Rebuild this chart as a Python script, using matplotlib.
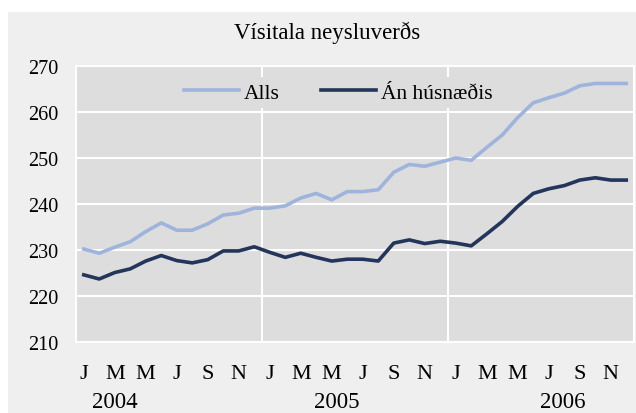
import matplotlib
matplotlib.use("Agg")
import matplotlib.pyplot as plt
from matplotlib.patches import Rectangle

months = ["J", "F", "M", "A", "M", "J", "J", "Á", "S", "O", "N", "D"] * 3
years = ["2004", "2005", "2006"]
year_pos = [2.0, 16.3, 30.9]

alls = [230.2, 229.3, 230.6, 231.8, 234.0, 235.9, 234.3, 234.3, 235.7, 237.6, 238.0, 239.1,
        239.1, 239.6, 241.3, 242.3, 240.9, 242.7, 242.7, 243.1, 246.9, 248.6, 248.2, 249.1,
        250.0, 249.5, 252.3, 255.0, 258.8, 262.0, 263.1, 264.1, 265.7, 266.2, 266.2, 266.2]
an_husnaedis = [224.6, 223.7, 225.1, 225.9, 227.6, 228.8, 227.7, 227.2, 227.9, 229.8, 229.8, 230.7,
                229.5, 228.4, 229.3, 228.4, 227.6, 228.0, 228.0, 227.6, 231.5, 232.2, 231.4, 231.9,
                231.5, 230.9, 233.5, 236.2, 239.5, 242.3, 243.3, 244.0, 245.2, 245.7, 245.2, 245.2]

plt.rcParams['font.family'] = ['Liberation Serif', 'DejaVu Serif']

W, H = 636, 414
fig = plt.figure(figsize=(W / 100, H / 100), dpi=100, facecolor="white")
fig.patches.append(Rectangle((8 / W, 0), 1, (H - 13) / H, transform=fig.transFigure,
                             facecolor="#efefef", edgecolor="none", zorder=-10))

ax = fig.add_axes([76 / W, 71 / H, 558 / W, 276 / H])
ax.set_facecolor("#dddddd")
x = list(range(len(alls)))
ax.plot(x, alls, color="#9fb4dc", lw=2.6, label="Alls", zorder=3)
ax.plot(x, an_husnaedis, color="#23355a", lw=2.6, label="Án húsnæðis", zorder=3)

ax.set_xlim(-0.5, len(alls) - 0.5)
ax.set_ylim(210, 270)
ax.set_yticks(range(210, 271, 10))
for yv in range(220, 270, 10):
    ax.axhline(yv, color="white", lw=1.5, zorder=1)
for xv in [11.5, 23.5]:
    ax.axvline(xv, color="white", lw=1.5, zorder=1)
for s in ax.spines.values():
    s.set_color("white")
    s.set_linewidth(1.5)

ticks = list(range(0, 36, 2))
ax.set_xticks(ticks)
ax.set_xticklabels([months[i] for i in ticks], fontsize=16)
ax.tick_params(axis="x", length=0, pad=16)
ax.tick_params(axis="y", length=0, pad=13, labelsize=14.5)

for yr, p in zip(years, year_pos):
    ax.text(p, -0.215, yr, transform=ax.get_xaxis_transform(), ha="center", va="center",
            fontsize=16.5)

fig.text(0.515, 1 - 33 / H, "Vísitala neysluverðs", ha="center", va="center", fontsize=16.5)

leg = ax.legend(loc="upper center", bbox_to_anchor=(0.47, 0.975), ncol=2, frameon=True,
                facecolor="#dddddd", edgecolor="none", framealpha=1, fontsize=15.5,
                handlelength=2.55, columnspacing=1.9, handletextpad=0.25, borderaxespad=0.2,
                borderpad=0.25)
leg.get_frame().set_boxstyle("square", pad=0)

fig.savefig("out.png", dpi=100, facecolor="white")
